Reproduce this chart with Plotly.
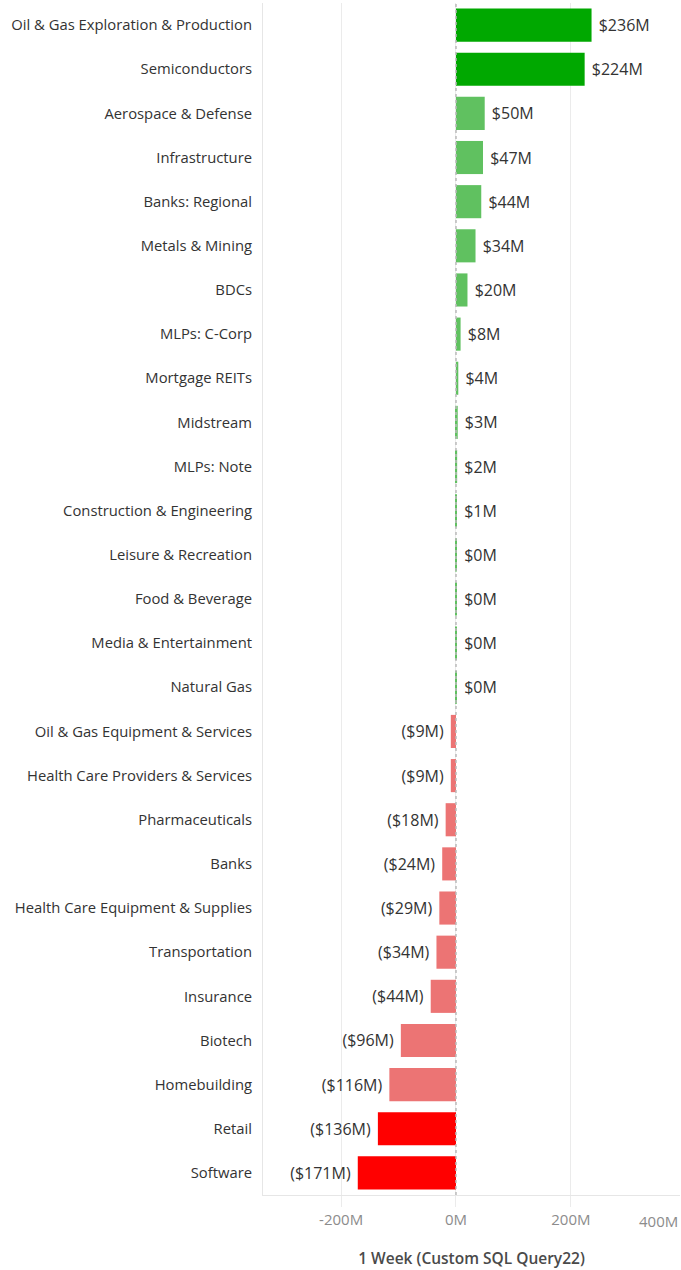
import plotly.graph_objects as go

categories = ["Oil & Gas Exploration & Production", "Semiconductors", "Aerospace & Defense",
              "Infrastructure", "Banks: Regional", "Metals & Mining", "BDCs", "MLPs: C-Corp",
              "Mortgage REITs", "Midstream", "MLPs: Note", "Construction & Engineering",
              "Leisure & Recreation", "Food & Beverage", "Media & Entertainment", "Natural Gas",
              "Oil & Gas Equipment & Services", "Health Care Providers & Services",
              "Pharmaceuticals", "Banks", "Health Care Equipment & Supplies", "Transportation",
              "Insurance", "Biotech", "Homebuilding", "Retail", "Software"]
values = [236, 224, 50, 47, 44, 34, 20, 8, 4, 3, 2, 1, 0.4, 0.4, 0.4, 0.4,
          -9, -9, -18, -24, -29, -34, -44, -96, -116, -136, -171]
labels = ["$236M", "$224M", "$50M", "$47M", "$44M", "$34M", "$20M", "$8M", "$4M", "$3M",
          "$2M", "$1M", "$0M", "$0M", "$0M", "$0M", "($9M)", "($9M)", "($18M)", "($24M)",
          "($29M)", "($34M)", "($44M)", "($96M)", "($116M)", "($136M)", "($171M)"]
tick_vals = [-200, 0, 200]
tick_text = ["-200M", "0M", "200M"]


def color_for(v):
    if v >= 100:
        return "#00A800"
    if v > 0:
        return "#60C160"
    if v > -120:
        return "#EC7474"
    return "#FF0000"


colors = [color_for(v) for v in values]
padded = [" " + t if v > 0 else t + " " for t, v in zip(labels, values)]

fig = go.Figure(go.Bar(
    x=values, y=categories, orientation="h",
    marker=dict(color=colors, line=dict(width=0)),
    text=padded, textposition="outside", cliponaxis=False, constraintext="none",
    textangle=0,
    textfont=dict(family="Open Sans", size=16, color="#333333"),
))

fig.update_layout(
    width=681, height=1270,
    margin=dict(l=263, r=1, t=3, b=75),
    plot_bgcolor="white", paper_bgcolor="white",
    bargap=0.25, showlegend=False,
    font=dict(family="Open Sans", color="#333333"),
)
fig.update_yaxes(
    categoryorder="array", categoryarray=categories, autorange="reversed",
    tickfont=dict(family="Open Sans", size=14.8, color="#333333"),
    ticks="outside", ticklen=7, tickcolor="rgba(0,0,0,0)",
    showgrid=False, showline=True, linecolor="#E6E6E6", linewidth=1,
    automargin=False,
)
fig.update_xaxes(
    range=[-336, 390], tickvals=tick_vals, ticktext=tick_text,
    tickfont=dict(family="Open Sans", size=15, color="#8C8C8C"),
    showgrid=True, gridcolor="#EBEBEB", gridwidth=1,
    zeroline=False, showline=True, linecolor="#E6E6E6", mirror=False,
    ticks="outside", ticklen=11, tickcolor="#EBEBEB",
    title=dict(text="1 Week (Custom SQL Query22)",
               font=dict(family="Open Sans", size=15.5, color="#4A4A4A", weight=600),
               standoff=25),
    automargin=False,
)
fig.add_vline(x=0, line=dict(color="#BBBBBB", width=1.5, dash="dot"))
fig.add_annotation(x=1, xref="paper", y=-0.012, yref="paper", text="400M", showarrow=False,
                   xanchor="right", yanchor="top",
                   font=dict(family="Open Sans", size=15, color="#8C8C8C"))

fig.write_html("out.html", config={"displayModeBar": False},
               post_script="document.body.style.margin='0';")
